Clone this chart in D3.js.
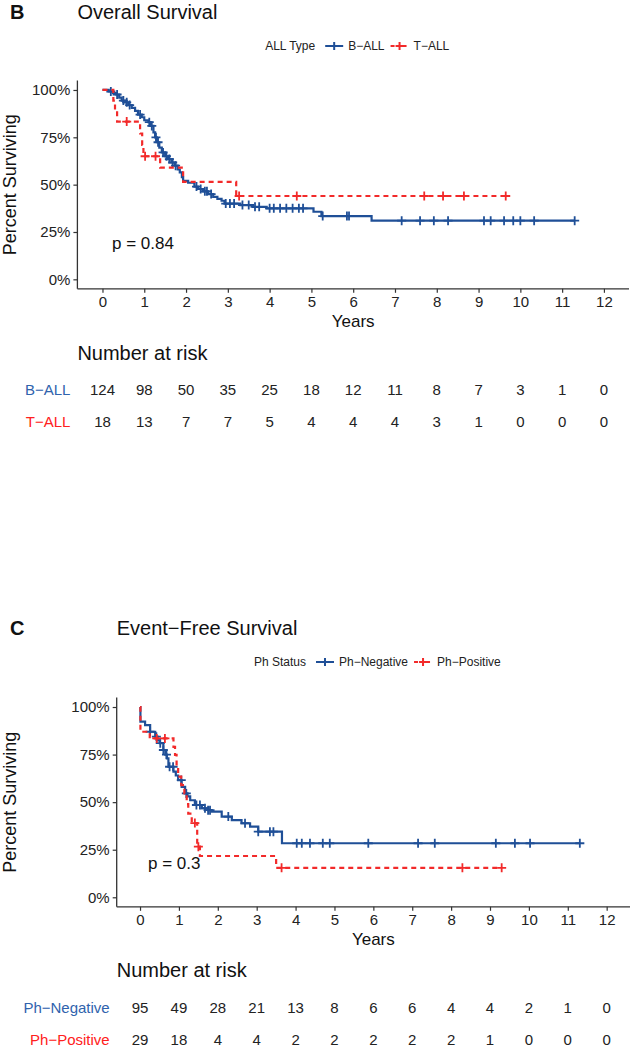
<!DOCTYPE html>
<html>
<head>
<meta charset="utf-8">
<script src="https://cdn.jsdelivr.net/npm/d3@7"></script>
<style>
  html, body { margin: 0; padding: 0; background: #fff; }
  svg { display: block; font-family: "Liberation Sans", Arial, Helvetica, sans-serif; }
</style>
</head>
<body>
<svg id="chart" width="631" height="1050"></svg>
<script>
// ---------------- DATA ----------------
const yearTicks = [0, 1, 2, 3, 4, 5, 6, 7, 8, 9, 10, 11, 12];
const survTicks = [0, 0.25, 0.5, 0.75, 1];

// Panel B: Overall Survival
const osGroups = ["B\u2212ALL", "T\u2212ALL"];
const osBallSteps = [[0,1.0],[0.15,0.992],[0.25,0.984],[0.32,0.976],[0.4,0.96],[0.46,0.944],[0.55,0.935],[0.62,0.92],[0.7,0.905],[0.78,0.89],[0.85,0.87],[0.94,0.856],[1.0,0.84],[1.1,0.83],[1.15,0.81],[1.22,0.776],[1.26,0.75],[1.3,0.724],[1.36,0.695],[1.42,0.67],[1.5,0.65],[1.57,0.635],[1.65,0.617],[1.73,0.6],[1.8,0.58],[1.85,0.565],[1.9,0.54],[1.93,0.52],[2.05,0.51],[2.2,0.49],[2.29,0.477],[2.4,0.465],[2.53,0.45],[2.65,0.435],[2.75,0.425],[2.85,0.415],[2.92,0.40],[3.3,0.392],[3.6,0.383],[3.93,0.375],[5.05,0.357],[5.24,0.334],[6.44,0.31]];
const osBallCensor = [0.2,0.35,0.5,0.58,0.65,0.9,1.12,1.18,1.28,1.33,1.45,1.53,1.6,1.68,1.75,2.25,2.35,2.45,2.5,2.6,2.95,3.05,3.15,3.35,3.5,3.65,3.75,4.0,4.1,4.25,4.4,4.55,4.7,4.8,5.27,5.85,5.9,7.16,7.6,7.93,8.27,9.13,9.29,9.61,9.83,10.0,10.33,11.3];
const osTallSteps = [[0,1.0],[0.26,0.944],[0.3,0.889],[0.35,0.833],[0.9,0.77],[0.95,0.71],[0.98,0.65],[1.38,0.59],[1.93,0.515],[3.2,0.44]];
const osTallCensor = [0.58,1.02,1.27,3.27,4.65,7.7,8.15,8.65,9.65];
const osRiskB = [124, 98, 50, 35, 25, 18, 12, 11, 8, 7, 3, 1, 0];
const osRiskT = [18, 13, 7, 7, 5, 4, 4, 4, 3, 1, 0, 0, 0];
const osPValue = "p = 0.84";

// Panel C: Event-Free Survival
const efsGroups = ["Ph\u2212Negative", "Ph\u2212Positive"];
const efsNegSteps = [[0,1.0],[0.01,0.923],[0.13,0.905],[0.26,0.87],[0.39,0.844],[0.45,0.825],[0.51,0.81],[0.6,0.774],[0.65,0.75],[0.69,0.73],[0.73,0.686],[0.86,0.66],[0.92,0.64],[0.98,0.616],[1.07,0.58],[1.16,0.546],[1.22,0.53],[1.29,0.51],[1.41,0.485],[1.59,0.468],[1.75,0.458],[1.84,0.45],[2.1,0.424],[2.36,0.406],[2.61,0.389],[2.83,0.371],[3.04,0.345],[3.65,0.284]];
const efsNegCensor = [0.26,0.42,0.52,0.6,0.68,0.76,0.85,1.06,1.19,1.45,1.54,1.67,1.75,1.8,2.27,2.7,3.04,3.34,3.43,4.03,4.16,4.37,4.7,4.88,5.87,7.15,7.58,9.15,9.64,10.03,11.31];
const efsPosSteps = [[0,1.0],[0.01,0.87],[0.25,0.835],[0.86,0.79],[0.9,0.748],[0.94,0.69],[0.98,0.634],[1.06,0.59],[1.14,0.546],[1.2,0.49],[1.24,0.44],[1.33,0.39],[1.47,0.266],[1.54,0.217],[3.5,0.155]];
const efsPosCensor = [0.43,0.64,1.41,1.5,3.64,8.29,9.3];
const efsRiskNeg = [95, 49, 28, 21, 13, 8, 6, 6, 4, 4, 2, 1, 0];
const efsRiskPos = [29, 18, 4, 4, 2, 2, 2, 2, 2, 1, 0, 0, 0];
const efsPValue = "p = 0.3";

// ---------------- STYLE ----------------
const BLUE = "#1f4f97";
const RED = "#f22a2a";
const BLUE_TXT = "#2f63ad";
const RED_TXT = "#ff2020";
const AXIS = "#333333";

const svg = d3.select("#chart");

function stepValue(steps, t) {
  let v = steps[0][1];
  for (const [st, sv] of steps) { if (st <= t) v = sv; else break; }
  return v;
}

function drawPanel(cfg) {
  const g = svg.append("g");
  const x = d3.scaleLinear().domain([-0.6, 12.6]).range([cfg.left, cfg.right]);
  const y = d3.scaleLinear().domain([-0.05, 1.05]).range([cfg.bottom, cfg.top]);

  // panel letter + title
  g.append("text").attr("x", 10).attr("y", cfg.titleY).attr("font-size", 20).attr("font-weight", "bold").attr("fill", "#111").text(cfg.letter);
  g.append("text").attr("x", cfg.left).attr("y", cfg.titleY).attr("font-size", 20).attr("fill", "#111").text(cfg.title);

  // legend
  const lg = g.append("g").attr("font-size", 12).attr("fill", "#222");
  let cx = 0;
  const t0 = lg.append("text").attr("x", cx).attr("y", 4).text(cfg.legendTitle);
  cx += t0.node().getComputedTextLength() + 10;
  cfg.series.forEach((s, i) => {
    const k = lg.append("g").attr("transform", `translate(${cx + 9},0)`);
    k.append("line").attr("x1", -9).attr("x2", 9).attr("y1", 0).attr("y2", 0)
      .attr("stroke", s.color).attr("stroke-width", 2).attr("stroke-dasharray", s.dash ? "4,2" : null);
    k.append("path").attr("d", "M-4,0H4M0,-4V4").attr("stroke", s.color).attr("stroke-width", 2);
    cx += 18 + 5;
    const tt = lg.append("text").attr("x", cx).attr("y", 4).text(s.name);
    cx += tt.node().getComputedTextLength() + 6;
  });
  const lw = cx - 6;
  const center = (cfg.left + cfg.right) / 2 + 4;
  lg.attr("transform", `translate(${center - lw / 2},${cfg.legendY})`);

  // axes
  const xAxis = d3.axisBottom(x).tickValues(yearTicks).tickSize(4).tickPadding(4).tickSizeOuter(0);
  const gx = g.append("g").attr("transform", `translate(0,${cfg.bottom})`).call(xAxis);
  gx.select(".domain").attr("d", `M${cfg.left},0H${cfg.right}`);
  const yAxis = d3.axisLeft(y).tickValues(survTicks).tickFormat(d3.format(".0%")).tickSize(4).tickPadding(3).tickSizeOuter(0);
  const gy = g.append("g").attr("transform", `translate(${cfg.left},0)`).call(yAxis);
  gy.select(".domain").attr("d", `M0,${cfg.top}V${cfg.bottom}`);
  [gx, gy].forEach(a => {
    a.selectAll(".domain").attr("stroke", AXIS).attr("stroke-width", 1.3);
    a.selectAll(".tick line").attr("stroke", AXIS).attr("stroke-width", 1.2);
    a.selectAll(".tick text").attr("font-size", 15).attr("fill", "#222").attr("font-family", "Liberation Sans, Arial, sans-serif");
  });

  g.append("text").attr("x", (cfg.left + cfg.right) / 2).attr("y", cfg.bottom + 38).attr("text-anchor", "middle")
    .attr("font-size", 17).attr("fill", "#111").text("Years");
  g.append("text").attr("transform", `translate(16,${(cfg.top + cfg.bottom) / 2}) rotate(-90)`).attr("text-anchor", "middle")
    .attr("font-size", 18).attr("fill", "#111").text("Percent Surviving");

  // curves
  const line = d3.line().x(d => x(d[0])).y(d => y(d[1])).curve(d3.curveStepAfter);
  cfg.series.forEach(s => {
    const end = Math.max(d3.max(s.censor), s.steps[s.steps.length - 1][0]);
    const pts = s.steps.concat([[end, s.steps[s.steps.length - 1][1]]]);
    g.append("path").datum(pts).attr("d", line).attr("fill", "none")
      .attr("stroke", s.color).attr("stroke-width", 2.2).attr("stroke-dasharray", s.dash ? "5,4" : null);
    g.append("g").selectAll("path").data(s.censor).join("path")
      .attr("transform", d => `translate(${x(d)},${y(stepValue(s.steps, d))})`)
      .attr("d", "M-4.5,0H4.5M0,-4.5V4.5").attr("stroke", s.color).attr("stroke-width", 1.8);
  });

  // p value
  g.append("text").attr("x", cfg.pX).attr("y", cfg.pY).attr("font-size", 17).attr("fill", "#111").text(cfg.pText);

  // risk table
  g.append("text").attr("x", cfg.left).attr("y", cfg.riskTitleY).attr("font-size", 20).attr("fill", "#111").text("Number at risk");
  cfg.series.forEach((s, i) => {
    const ry = cfg.riskRowY[i];
    g.append("text").attr("x", cfg.left - 7).attr("y", ry).attr("text-anchor", "end").attr("font-size", 15)
      .attr("fill", s.txtColor).text(s.name);
    g.append("g").selectAll("text").data(s.risk).join("text")
      .attr("x", (d, j) => x(yearTicks[j])).attr("y", ry).attr("text-anchor", "middle")
      .attr("font-size", 15).attr("fill", "#222").text(d => d);
  });
}

drawPanel({
  letter: "B", title: "Overall Survival", titleY: 19,
  legendTitle: "ALL Type", legendY: 46,
  left: 77.4, right: 629, top: 80.5, bottom: 288.8,
  pText: osPValue, pX: 112, pY: 249,
  riskTitleY: 360, riskRowY: [395, 427],
  series: [
    { name: osGroups[0], color: BLUE, txtColor: BLUE_TXT, dash: false, steps: osBallSteps, censor: osBallCensor, risk: osRiskB },
    { name: osGroups[1], color: RED, txtColor: RED_TXT, dash: true, steps: osTallSteps, censor: osTallCensor, risk: osRiskT }
  ]
});

drawPanel({
  letter: "C", title: "Event\u2212Free Survival", titleY: 635,
  legendTitle: "Ph Status", legendY: 662,
  left: 116.7, right: 630, top: 697.5, bottom: 906.8,
  pText: efsPValue, pX: 148, pY: 869,
  riskTitleY: 977, riskRowY: [1013, 1045],
  series: [
    { name: efsGroups[0], color: BLUE, txtColor: BLUE_TXT, dash: false, steps: efsNegSteps, censor: efsNegCensor, risk: efsRiskNeg },
    { name: efsGroups[1], color: RED, txtColor: RED_TXT, dash: true, steps: efsPosSteps, censor: efsPosCensor, risk: efsRiskPos }
  ]
});
</script>
</body>
</html>
